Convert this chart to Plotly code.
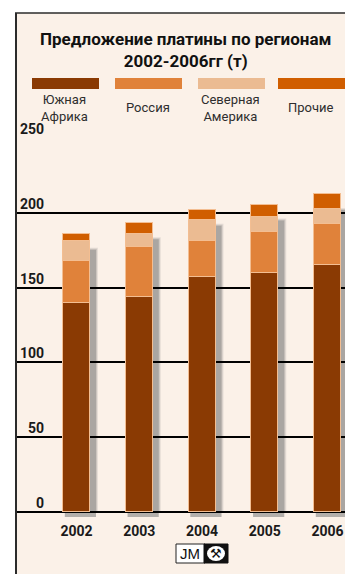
import plotly.graph_objects as go

# Platinum supply by region, tonnes
years = ["2002", "2003", "2004", "2005", "2006"]
south_africa = [140, 144, 157, 160, 165]
russia = [28, 33, 24, 27, 27.5]
north_america = [13, 9, 14.5, 10.5, 10]
others = [5, 7, 6.5, 8, 10]

series_names = ["Южная<br>Африка", "Россия", "Северная<br>Америка", "Прочие"]
series_colors = ["#8A3A03", "#E0823A", "#EBBB92", "#D05E00"]
y_ticks = [0, 50, 100, 150, 200, 250]

title_lines = ["Предложение платины по регионам", "2002-2006гг (т)"]

W, H = 345, 574
L, T, B = 16, 138, 62
PW, PH = W - L, H - T - B
BG = "#FBF1E8"
FACE = "Roboto, Liberation Sans, sans-serif"


def font(size, color, bold=False):
    f = dict(family=FACE, size=size, color=color)
    if bold:
        f["weight"] = "bold"
    return f


def px(x):
    return (x - L) / PW


def py(y):
    return (H - B - y) / PH


step_px = 62.75
x0 = -(76.5 - L) / step_px
x1 = x0 + PW / step_px
bar_w = 27 / step_px
unit_px = PH / 250.0

xs = list(range(len(years)))
series = [south_africa, russia, north_america, others]

fig = go.Figure()
for vals, name, col in zip(series, series_names, series_colors):
    fig.add_trace(go.Bar(
        x=xs, y=vals, name=name, width=bar_w,
        marker=dict(color=col, line=dict(color="#F3BE92", width=1)),
        showlegend=False, hoverinfo="skip",
    ))

shapes = []
# cream panel with a dark frame on the left and top
shapes.append(dict(type="rect", xref="paper", yref="paper",
                   x0=px(16), x1=px(345), y0=py(574), y1=py(13),
                   fillcolor=BG, line=dict(width=0), layer="below"))

# soft drop shadows behind the bars
totals = [sum(v) for v in zip(*series)]
dx = 6 / step_px
for i, tot in enumerate(totals):
    top = tot - 16 / unit_px
    for grow, op in [(2.0, 0.25), (1.0, 0.45), (0.0, 1.0)]:
        g = grow / step_px
        shapes.append(dict(type="rect", xref="x", yref="y",
                           x0=i - bar_w / 2 + dx - g, x1=i + bar_w / 2 + dx + g,
                           y0=0, y1=top + grow / unit_px,
                           fillcolor="#AAA6A2", opacity=op,
                           line=dict(width=0), layer="below"))
    shapes.append(dict(type="rect", xref="x", yref="paper",
                       x0=i - bar_w / 2 + dx * 0.3, x1=i + bar_w / 2 + dx,
                       y0=py(517), y1=py(512),
                       fillcolor="#B3AFAB", line=dict(width=0), layer="below"))

shapes.append(dict(type="line", xref="paper", yref="paper",
                   x0=px(16), x1=px(16), y0=py(574), y1=py(13),
                   line=dict(color="#2B2B2B", width=2)))
shapes.append(dict(type="line", xref="paper", yref="paper",
                   x0=px(15), x1=px(345), y0=py(13), y1=py(13),
                   line=dict(color="#2B2B2B", width=1.5)))

annotations = []
annotations.append(dict(
    xref="paper", yref="paper", x=px(185), y=py(50), xanchor="center", yanchor="middle",
    text="<br>".join(title_lines), showarrow=False,
    font=font(17, "#111111", bold=True),
))

# legend: swatches above their labels
legend_x = [(32, 99), (115, 182), (198, 265), (278, 345)]
label_cx = [64, 148, 230, 311]
for (a, b), cx, name, col in zip(legend_x, label_cx, series_names, series_colors):
    shapes.append(dict(type="rect", xref="paper", yref="paper",
                       x0=px(a), x1=px(b), y0=py(89), y1=py(78),
                       fillcolor=col, line=dict(width=0)))
    annotations.append(dict(
        xref="paper", yref="paper", x=px(cx), y=py(107.5), xanchor="center", yanchor="middle",
        text=name, showarrow=False, font=font(13, "#2E2E2E"),
    ))

# value labels sit just above their gridlines
for t in y_ticks:
    annotations.append(dict(
        xref="paper", yref="y", x=px(46), y=t, xanchor="right", yanchor="bottom",
        text=str(t), showarrow=False, yshift=-1,
        font=font(14, "#1A1A1A", bold=True),
    ))

# JM logo
shapes.append(dict(type="rect", xref="paper", yref="paper",
                   x0=px(176), x1=px(205), y0=py(563), y1=py(544),
                   fillcolor="#FFFFFF", line=dict(color="#222222", width=1)))
shapes.append(dict(type="rect", xref="paper", yref="paper",
                   x0=px(204), x1=px(228), y0=py(563), y1=py(544),
                   fillcolor="#111111", line=dict(color="#111111", width=1)))
shapes.append(dict(type="circle", xref="paper", yref="paper",
                   x0=px(207), x1=px(225), y0=py(561), y1=py(546),
                   fillcolor="#FFFFFF", line=dict(width=0)))
annotations.append(dict(xref="paper", yref="paper", x=px(190.5), y=py(553.5),
                        xanchor="center", yanchor="middle", text="JM", showarrow=False,
                        font=dict(family="Liberation Sans, Arial, sans-serif", size=15, color="#111111")))
annotations.append(dict(xref="paper", yref="paper", x=px(216), y=py(553.5),
                        xanchor="center", yanchor="middle", text="⚒", showarrow=False,
                        font=dict(family="DejaVu Sans, sans-serif", size=13, color="#111111")))

fig.update_layout(
    width=W, height=H,
    margin=dict(l=L, r=0, t=T, b=B, pad=0),
    paper_bgcolor="#FFFFFF", plot_bgcolor=BG,
    barmode="stack", bargap=0,
    shapes=shapes, annotations=annotations,
    xaxis=dict(range=[x0, x1], tickvals=xs, ticktext=years, showgrid=False,
               zeroline=False, showline=False, ticks="", ticklabelstandoff=9,
               ticklabeloverflow="allow",
               tickfont=font(14, "#1A1A1A", bold=True),
               fixedrange=True),
    yaxis=dict(range=[0, 250], tickvals=y_ticks, showticklabels=False,
               showgrid=True, gridcolor="#000000", gridwidth=2,
               zeroline=True, zerolinecolor="#000000", zerolinewidth=2,
               showline=False, fixedrange=True),
    showlegend=False,
)

fig.write_html("out.html", config={"displayModeBar": False})
